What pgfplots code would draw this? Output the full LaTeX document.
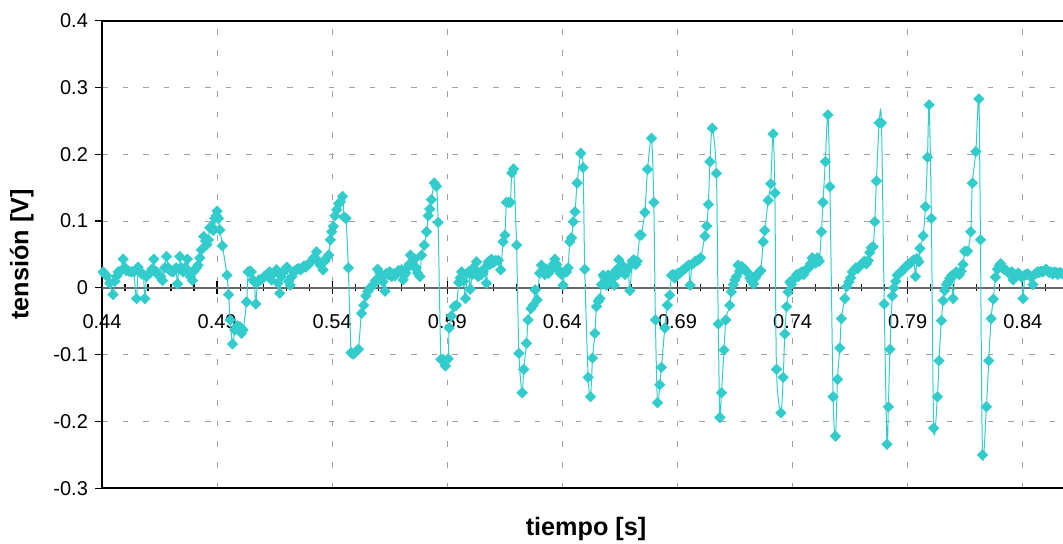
\documentclass[border=0pt]{standalone}
\usepackage{fontspec}
\setmainfont{Liberation Sans}
\usepackage{pgfplots}
\usepackage{pgfplotstable}
\pgfplotsset{compat=1.18}
\definecolor{turq}{RGB}{51,204,204}
\definecolor{gridgray}{RGB}{160,160,160}
\definecolor{zerogray}{RGB}{105,105,105}

\pgfplotstableread{
t y
0.4390 -0.012
0.4398 0.017
0.4405 0.024
0.4412 0.021
0.4420 0.018
0.4434 0.007
0.4448 -0.010
0.4456 0.010
0.4463 0.017
0.4470 0.024
0.4480 0.025
0.4492 0.043
0.4500 0.030
0.4506 0.026
0.4517 0.025
0.4528 0.024
0.4538 0.024
0.4550 -0.016
0.4557 0.031
0.4565 0.024
0.4572 0.021
0.4580 0.020
0.4586 -0.016
0.4593 0.017
0.4600 0.020
0.4608 0.022
0.4617 0.028
0.4625 0.043
0.4631 0.025
0.4637 0.024
0.4645 0.019
0.4655 0.017
0.4663 0.011
0.4672 0.030
0.4680 0.047
0.4688 0.030
0.4695 0.026
0.4702 0.025
0.4709 0.024
0.4716 0.028
0.4722 0.030
0.4728 0.006
0.4738 0.047
0.4745 0.030
0.4752 0.024
0.4760 0.030
0.4771 0.043
0.4778 0.025
0.4784 0.017
0.4793 0.011
0.4800 0.025
0.4810 0.030
0.4817 0.034
0.4825 0.045
0.4832 0.057
0.4842 0.077
0.4850 0.070
0.4856 0.065
0.4862 0.072
0.4868 0.090
0.4876 0.092
0.4883 0.086
0.4890 0.104
0.4896 0.108
0.4900 0.115
0.4906 0.104
0.4912 0.087
0.4923 0.063
0.4943 0.019
0.4950 -0.010
0.4957 -0.048
0.4967 -0.084
0.4977 -0.063
0.4988 -0.057
0.4999 -0.058
0.5006 -0.068
0.5013 -0.063
0.5028 -0.021
0.5035 0.024
0.5042 0.025
0.5049 0.024
0.5056 0.012
0.5062 0.009
0.5068 -0.024
0.5075 0.008
0.5082 0.012
0.5090 0.012
0.5098 0.014
0.5105 0.017
0.5112 0.019
0.5120 0.021
0.5128 0.024
0.5136 0.012
0.5143 0.021
0.5150 0.024
0.5158 0.027
0.5165 0.007
0.5172 -0.008
0.5180 0.017
0.5188 0.024
0.5196 0.028
0.5203 0.031
0.5210 0.010
0.5218 0.004
0.5225 0.017
0.5233 0.024
0.5240 0.026
0.5248 0.028
0.5255 0.029
0.5263 0.027
0.5270 0.030
0.5278 0.033
0.5285 0.031
0.5293 0.034
0.5300 0.036
0.5310 0.040
0.5320 0.045
0.5332 0.054
0.5340 0.040
0.5348 0.034
0.5360 0.027
0.5368 0.040
0.5376 0.045
0.5385 0.049
0.5392 0.072
0.5398 0.084
0.5405 0.092
0.5412 0.108
0.5420 0.117
0.5428 0.126
0.5436 0.129
0.5445 0.137
0.5452 0.106
0.5460 0.104
0.5470 0.030
0.5482 -0.097
0.5492 -0.099
0.5502 -0.096
0.5514 -0.092
0.5527 -0.038
0.5537 -0.026
0.5546 -0.012
0.5556 -0.005
0.5568 0.001
0.5578 0.005
0.5588 0.011
0.5597 0.028
0.5607 0.022
0.5614 0.015
0.5620 0.009
0.5629 -0.005
0.5636 0.022
0.5643 0.020
0.5650 0.024
0.5658 0.017
0.5665 0.021
0.5672 0.018
0.5680 0.022
0.5688 0.026
0.5695 0.024
0.5701 0.027
0.5708 0.012
0.5713 0.019
0.5719 0.022
0.5727 0.030
0.5734 0.035
0.5740 0.049
0.5747 0.036
0.5754 0.032
0.5759 0.043
0.5765 0.030
0.5771 0.022
0.5781 0.017
0.5788 0.049
0.5800 0.064
0.5810 0.084
0.5817 0.108
0.5824 0.118
0.5831 0.132
0.5843 0.157
0.5853 0.152
0.5860 0.098
0.5872 -0.107
0.5882 -0.107
0.5892 -0.117
0.5904 -0.106
0.5908 -0.060
0.5918 -0.042
0.5930 -0.028
0.5940 -0.026
0.5950 0.008
0.5956 0.015
0.5962 0.024
0.5970 0.010
0.5979 -0.016
0.5986 0.022
0.5993 0.024
0.6000 -0.002
0.6007 0.020
0.6014 0.030
0.6020 0.024
0.6027 0.039
0.6034 0.017
0.6041 0.022
0.6048 0.020
0.6056 0.024
0.6063 0.030
0.6070 0.007
0.6078 0.039
0.6085 0.035
0.6092 0.043
0.6100 0.038
0.6110 0.041
0.6121 0.041
0.6132 0.027
0.6142 0.069
0.6150 0.079
0.6157 0.128
0.6166 0.128
0.6174 0.128
0.6180 0.172
0.6188 0.178
0.6201 0.064
0.6211 -0.098
0.6225 -0.157
0.6232 -0.122
0.6244 -0.083
0.6251 -0.048
0.6263 -0.031
0.6273 -0.026
0.6282 -0.003
0.6290 -0.018
0.6301 0.022
0.6309 0.034
0.6316 0.025
0.6324 0.020
0.6332 0.028
0.6340 0.022
0.6348 0.026
0.6355 0.030
0.6362 0.036
0.6367 0.043
0.6375 0.035
0.6382 0.028
0.6390 0.022
0.6397 0.020
0.6403 0.004
0.6411 0.024
0.6418 0.024
0.6425 0.030
0.6432 0.069
0.6440 0.075
0.6447 0.099
0.6455 0.114
0.6464 0.157
0.6480 0.2015
0.6490 0.180
0.6497 0.028
0.6512 -0.134
0.6522 -0.163
0.6531 -0.105
0.6541 -0.068
0.6548 -0.028
0.6556 -0.020
0.6563 -0.016
0.6570 0.005
0.6577 0.019
0.6584 0.015
0.6591 0.004
0.6598 0.019
0.6605 0.018
0.6613 0.012
0.6619 0.020
0.6625 0.004
0.6630 0.020
0.6635 0.027
0.6640 0.020
0.6645 0.042
0.6652 0.030
0.6660 0.034
0.6667 0.026
0.6672 0.020
0.6680 0.026
0.6686 0.030
0.6693 -0.004
0.6703 0.040
0.6710 0.042
0.6718 0.035
0.6725 0.040
0.6736 0.079
0.6742 0.079
0.6758 0.113
0.6770 0.1775
0.6787 0.224
0.6797 0.128
0.6804 -0.048
0.6813 -0.172
0.6823 -0.145
0.6830 -0.119
0.6845 -0.060
0.6856 -0.026
0.6866 -0.011
0.6874 0.019
0.6880 0.020
0.6888 0.015
0.6895 0.020
0.6902 0.022
0.6910 0.022
0.6918 0.025
0.6925 0.027
0.6932 0.029
0.6940 0.031
0.6948 0.034
0.6955 0.004
0.6962 0.035
0.6970 0.037
0.6978 0.040
0.6986 0.041
0.6994 0.043
0.7001 0.045
0.7019 0.0775
0.7027 0.0925
0.7034 0.125
0.7041 0.189
0.7051 0.239
0.7069 0.1715
0.7077 -0.054
0.7084 -0.194
0.7091 -0.157
0.7102 -0.093
0.7110 -0.048
0.7127 -0.026
0.7134 -0.006
0.7142 0.005
0.7149 0.012
0.7156 0.017
0.7163 0.034
0.7170 0.025
0.7178 0.032
0.7185 0.030
0.7192 0.028
0.7200 0.024
0.7207 0.022
0.7214 0.015
0.7222 0.010
0.7230 0.006
0.7238 0.015
0.7245 0.020
0.7252 0.022
0.7262 0.026
0.7272 0.069
0.7279 0.086
0.7294 0.131
0.7305 0.156
0.7315 0.2305
0.7323 0.142
0.7330 -0.122
0.7349 -0.187
0.7359 -0.134
0.7366 -0.069
0.7374 -0.028
0.7381 -0.006
0.7388 0.009
0.7395 0.005
0.7402 0.012
0.7410 0.015
0.7418 0.020
0.7425 0.017
0.7432 0.022
0.7440 0.024
0.7448 0.020
0.7455 0.026
0.7462 0.028
0.7470 0.030
0.7478 0.036
0.7485 0.045
0.7492 0.040
0.7500 0.037
0.7508 0.045
0.7516 0.040
0.7525 0.084
0.7532 0.128
0.7542 0.189
0.7553 0.259
0.7562 0.1515
0.7576 -0.163
0.7586 -0.222
0.7595 -0.137
0.7605 -0.090
0.7612 -0.046
0.7627 -0.016
0.7635 0.002
0.7645 0.009
0.7652 0.015
0.7660 0.024
0.7668 0.027
0.7675 0.030
0.7683 0.029
0.7690 0.032
0.7698 0.035
0.7705 0.037
0.7712 0.040
0.7720 0.036
0.7728 0.041
0.7735 0.053
0.7742 0.060
0.7750 0.0617
0.7757 0.099
0.7764 0.160
0.7776 0.247
0.7786 0.247
0.7798 -0.024
0.7810 -0.234
0.7816 -0.178
0.7823 -0.092
0.7833 -0.012
0.7840 0.000
0.7848 0.010
0.7855 0.019
0.7862 0.021
0.7870 0.024
0.7878 0.026
0.7885 0.029
0.7892 0.032
0.7900 0.034
0.7907 0.036
0.7914 0.038
0.7920 0.040
0.7927 0.042
0.7934 0.017
0.7940 0.044
0.7948 0.039
0.7953 0.059
0.7967 0.078
0.7977 0.1216
0.7986 0.1955
0.7993 0.274
0.8003 0.104
0.8013 -0.210
0.8029 -0.163
0.8036 -0.109
0.8046 -0.049
0.8054 -0.019
0.8061 -0.004
0.8068 0.005
0.8076 0.009
0.8083 0.014
0.8090 0.018
0.8097 -0.016
0.8104 0.020
0.8111 0.024
0.8118 0.022
0.8125 0.020
0.8132 0.025
0.8140 0.035
0.8148 0.055
0.8160 0.055
0.8174 0.084
0.8181 0.157
0.8196 0.204
0.8209 0.283
0.8216 0.072
0.8225 -0.250
0.8242 -0.178
0.8252 -0.109
0.8262 -0.046
0.8272 -0.017
0.8281 0.016
0.8290 0.028
0.8297 0.033
0.8304 0.036
0.8311 0.030
0.8318 0.028
0.8325 0.027
0.8332 0.025
0.8340 0.022
0.8347 0.020
0.8352 0.024
0.8358 0.012
0.8365 0.020
0.8372 0.018
0.8380 0.022
0.8387 0.020
0.8394 0.016
0.8401 -0.016
0.8408 0.019
0.8415 0.020
0.8422 0.021
0.8430 0.018
0.8437 0.016
0.8444 0.005
0.8451 0.020
0.8458 0.022
0.8465 0.024
0.8472 0.023
0.8480 0.025
0.8487 0.024
0.8494 0.026
0.8501 0.028
0.8508 0.025
0.8515 0.023
0.8522 0.024
0.8530 0.021
0.8537 0.024
0.8545 0.023
0.8552 0.020
0.8560 0.023
0.8568 0.022
0.8576 0.021
0.8584 0.020
0.8592 0.021
0.8600 0.020
}\datatable

\begin{document}
\begin{tikzpicture}
\pgfplotsset{
  common/.style={
    scale only axis, width=484pt, height=233.8pt,
    xmin=0.44, xmax=0.8605, ymin=-0.3, ymax=0.4,
    /pgf/number format/assume math mode=true,
    ticklabel style={font=\fontsize{10}{12}\selectfont},
  }
}
\begin{axis}[common, name=ax,
  axis line style={black, line width=1pt},
  xtick={0.49,0.54,0.59,0.64,0.69,0.74,0.79,0.84}, xticklabels={},
  x tick style={draw=none},
  ytick={-0.3,-0.2,-0.1,0,0.1,0.2,0.3,0.4}, ytick pos=left,
  y tick style={black, line width=0.6pt},
  tick align=outside, major tick length=3.5pt,
  yticklabel style={/pgf/number format/fixed, /pgf/number format/precision=1},
  grid=major, grid style={gridgray, line width=0.5pt, dash pattern=on 2.8pt off 7.5pt},
  ylabel={tensión [V]},
  ylabel style={font=\bfseries\fontsize{12.6}{14}\selectfont, at={(axis description cs:-0.083,0.5)}, anchor=center},
]
\end{axis}
\begin{axis}[common,
  axis x line=middle, axis y line=none,
  axis line style={-, zerogray, line width=1pt},
  xtick={0.44,0.49,0.54,0.59,0.64,0.69,0.74,0.79,0.84},
  minor xtick={0.45,0.46,0.47,0.48,0.50,0.51,0.52,0.53,0.55,0.56,0.57,0.58,0.60,0.61,0.62,0.63,0.65,0.66,0.67,0.68,0.70,0.71,0.72,0.73,0.75,0.76,0.77,0.78,0.80,0.81,0.82,0.83,0.85,0.86},
  tick align=center, major tick length=6.5pt, minor tick length=3.4pt,
  x tick style={black, line width=0.6pt},
  hide obscured x ticks=false,
  xticklabel style={/pgf/number format/fixed, /pgf/number format/precision=2, anchor=center, yshift=-13.5pt},
  xlabel={tiempo [s]},
  xlabel style={font=\bfseries\fontsize{12.6}{14}\selectfont, at={(axis description cs:0.5,-0.086)}, anchor=center},
]
\addplot[turq, line width=0.5pt, smooth, tension=0.5, mark=square*, mark size=1.75pt,
  mark options={rotate=45, draw=none, fill=turq, solid}] table[x=t, y=y] {\datatable};
\end{axis}
\pgfresetboundingbox
\path[use as bounding box] ([xshift=-51pt,yshift=-27.85pt]ax.south west) rectangle ([xshift=-3.5pt,yshift=10.35pt]ax.north east);
\end{tikzpicture}
\end{document}
